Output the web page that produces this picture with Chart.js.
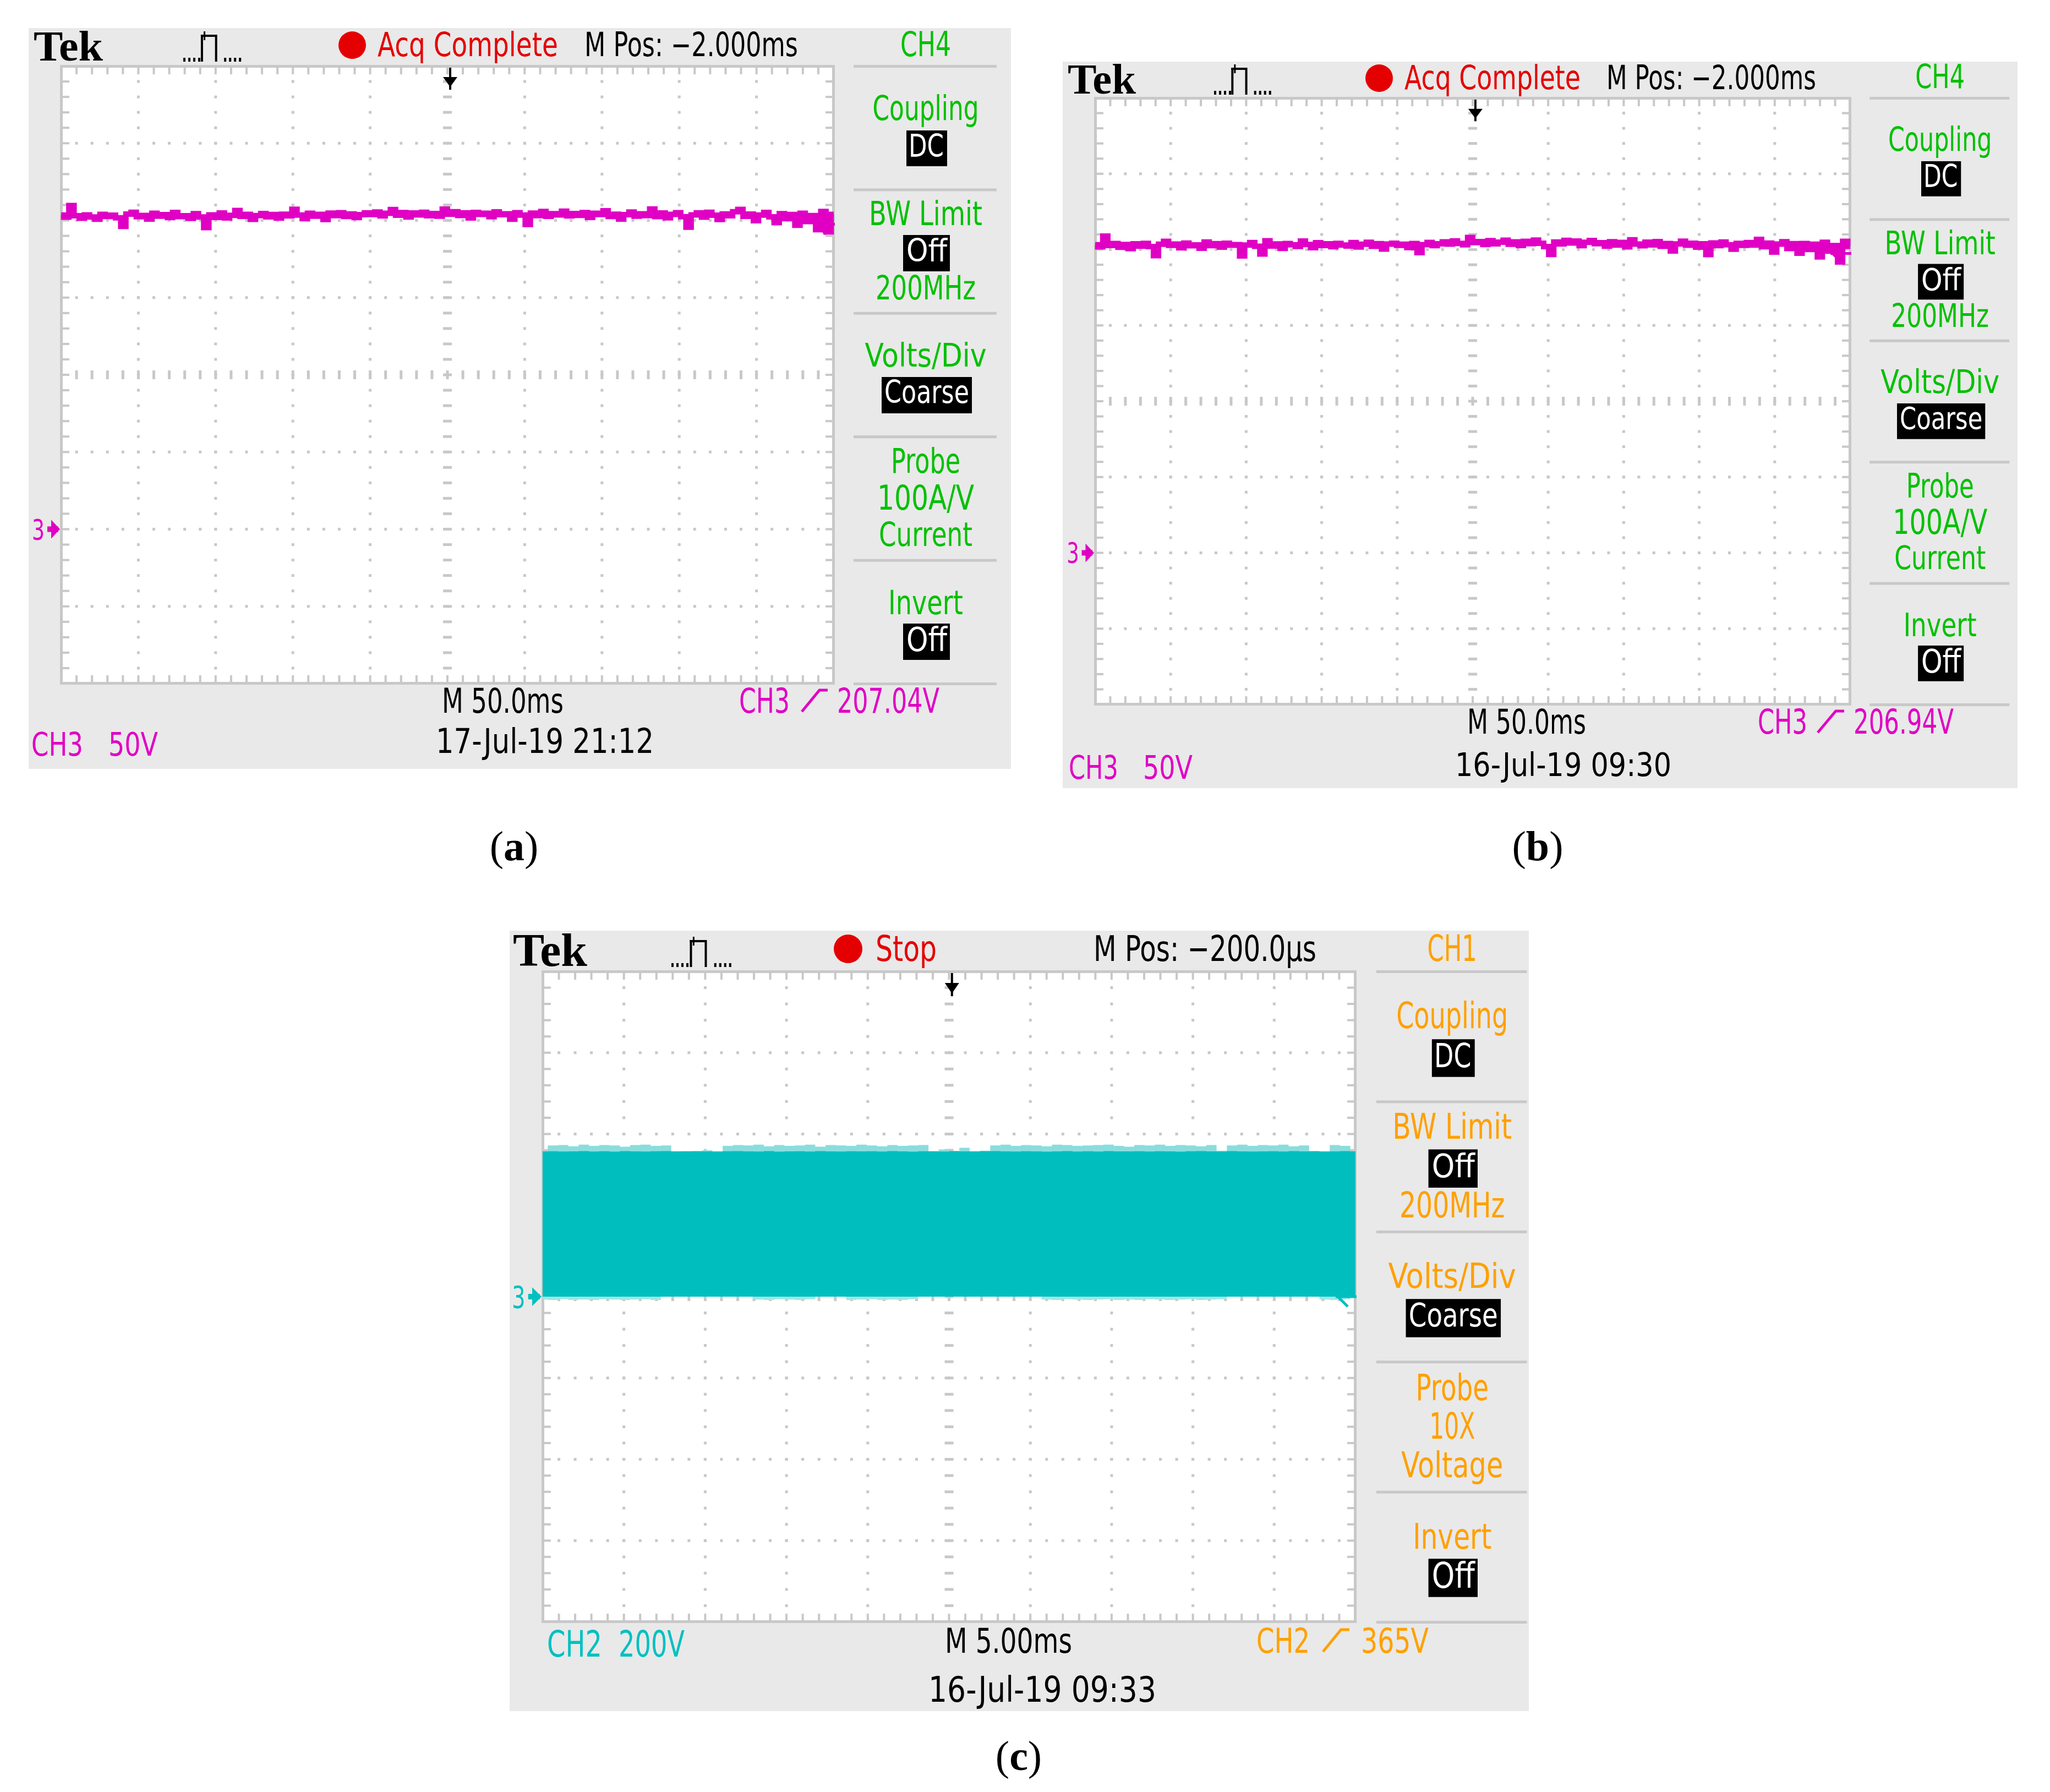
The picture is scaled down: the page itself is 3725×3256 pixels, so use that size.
<!DOCTYPE html>
<html>
<head>
<meta charset="utf-8">
<title>Oscilloscope captures (a) (b) (c)</title>
<script src="https://cdn.jsdelivr.net/npm/chart.js@4.4.1/dist/chart.umd.min.js"></script>
<style>
  html, body { margin: 0; padding: 0; background: #fff; }
  body { width: 3725px; height: 3256px; position: relative; overflow: hidden; }
  canvas.scope { position: absolute; }
  .cap { position: absolute; font-family: "Liberation Serif", serif; font-size: 76px; line-height: 1;
         transform: translate(-50%, -50%); color: #000; white-space: nowrap; }
  .cap b { font-weight: bold; }
</style>
</head>
<body>
<canvas id="scopeA" class="scope"></canvas>
<canvas id="scopeB" class="scope"></canvas>
<canvas id="scopeC" class="scope"></canvas>
<div class="cap" style="left:934px;top:1537px">(<b>a</b>)</div>
<div class="cap" style="left:2794px;top:1537px">(<b>b</b>)</div>
<div class="cap" style="left:1851px;top:3190px">(<b>c</b>)</div>

<script>

// (a) CH3, 50 V/div, volts above the CH3 ground marker
var aTrace = [
  203.5, 202.1, 209.6, 203.0, 201.4, 203.6, 202.2, 200.8, 203.9, 202.6,
  203.4, 201.7, 196.2, 204.1, 205.3, 202.4, 203.2, 200.9, 204.6, 202.8,
  203.7, 201.9, 205.2, 202.5, 203.0, 201.3, 204.4, 202.2, 195.4, 203.6,
  202.0, 204.8, 201.6, 203.3, 206.4, 202.7, 203.9, 200.7, 203.1, 204.5,
  202.3, 203.8, 201.5, 204.0, 202.9, 207.2, 203.5, 201.2, 204.6, 202.8,
  203.9, 200.6, 204.7, 203.1, 205.0, 202.6, 204.2, 201.9, 203.7, 204.9,
  203.8, 205.4, 202.9, 204.6, 207.0, 203.4, 205.1, 202.2, 204.8, 203.6,
  205.3, 203.0, 204.5, 202.8, 207.3, 204.0, 205.6, 203.2, 204.9, 201.6,
  205.2, 203.9, 204.6, 202.4, 205.5, 203.7, 204.3, 200.8, 205.0, 203.5,
  197.4, 204.7, 203.1, 205.8, 202.7, 204.4, 203.6, 206.0, 202.9, 204.5,
  203.3, 205.1, 202.0, 204.6, 203.8, 206.2, 202.6, 204.0, 200.9, 203.7,
  205.4, 202.8, 204.3, 203.1, 207.4, 202.5, 204.8, 201.7, 203.9, 205.0,
  202.4, 195.6, 203.6, 204.9, 202.1, 205.3, 203.4, 200.6, 204.2, 203.0,
  205.6, 207.1, 202.7, 204.1, 199.8, 203.5, 205.2, 202.3, 198.6, 204.4,
  201.2, 203.8, 196.9, 204.6, 199.3, 203.1, 194.0, 205.8, 192.6, 203.9
];
var aLevel = 197.5;

// (b) CH3, 50 V/div
var bTrace = [
  203.2, 201.8, 208.9, 202.7, 204.0, 201.5, 203.4, 200.6, 203.8, 202.3,
  204.1, 202.0, 196.0, 203.5, 205.4, 202.8, 203.6, 201.2, 204.3, 202.5,
  203.1, 200.9, 205.0, 202.6, 203.9, 201.6, 204.2, 202.9, 203.3, 195.8,
  203.0, 204.6, 202.2, 197.1, 205.8, 202.4, 203.7, 200.8, 204.0, 203.2,
  202.1, 205.6, 203.4, 201.3, 204.5, 202.7, 203.8, 201.9, 204.1, 203.0,
  202.4, 204.6, 201.7, 203.5, 204.8, 202.2, 203.9, 200.4, 203.6, 204.2,
  202.8, 203.5, 201.4, 204.0, 198.0, 203.3, 204.7, 202.6, 203.8, 205.1,
  203.6, 205.7, 204.1, 203.2, 208.0, 204.6, 205.3, 203.4, 205.9, 203.8,
  204.9, 206.2, 203.5, 205.1, 202.7, 205.4, 203.9, 206.3, 204.2, 202.0,
  196.8, 205.0, 203.7, 206.1, 204.4, 205.6, 202.6, 204.8, 206.0, 203.9,
  204.5, 202.3, 205.2, 203.0, 204.7, 201.8, 206.4, 203.6, 202.5, 204.9,
  203.1, 205.3, 202.2, 204.0, 199.1, 203.7, 205.5, 202.9, 204.2, 201.6,
  203.8, 196.7, 204.4, 202.6, 205.0, 203.2, 200.3, 204.1, 202.8, 204.6,
  203.0, 206.7, 201.9, 204.3, 198.4, 203.6, 205.2, 200.7, 203.9, 197.6,
  204.0, 200.1, 203.5, 195.2, 204.8, 199.0, 202.6, 191.8, 205.4, 202.2
];
var bLevel = 197.5;

// (c) CH2, 200 V/div - dense switching, so the band is drawn as its envelope
var cSpike = [
  358, 372, 373, 370, 374, 371, 373, 372, 369, 373,
  374, 371, 372, 358, 358, 358, 360, 358, 371, 373,
  372, 374, 370, 373, 371, 372, 374, 369, 373, 372,
  371, 374, 372, 370, 373, 371, 372, 373, 358, 362,
  358, 366, 358, 359, 372, 374, 371, 373, 372, 370,
  374, 373, 371, 372, 373, 374, 371, 369, 373, 372,
  374, 371, 373, 372, 370, 373, 359, 372, 374, 371,
  373, 372, 374, 370, 372, 358, 358, 373, 371, 358
];
var cBand = [
  357.2, 357.8, 356.9, 357.5, 358.0, 357.1, 357.6, 356.8, 357.9, 357.3,
  357.0, 357.7, 358.1, 356.9, 357.4, 357.8, 357.2, 356.7, 357.6, 358.0,
  357.3, 357.1, 357.9, 356.8, 357.5, 357.7, 357.0, 358.2, 357.4, 356.9,
  357.8, 357.2, 357.6, 357.0, 358.0, 357.3, 356.8, 357.7, 357.5, 357.1,
  357.9, 357.4, 356.9, 357.6, 358.1, 357.2, 357.0, 357.8, 357.3, 356.7,
  357.5, 357.9, 357.1, 357.6, 356.9, 358.0, 357.4, 357.2, 357.7, 357.0,
  357.8, 357.3, 356.8, 357.6, 358.1, 357.5, 357.1, 357.9, 357.2, 356.9,
  357.4, 357.7, 357.0, 358.0, 357.3, 357.6, 356.8, 357.5, 357.9, 357.2
];
var cDip = [
  -7, -8, -6, -8, -7, -8, -6, -7, -8, -7,
  -6, -8, 0, 0, 0, 0, 0, 0, 0, 0,
  0, -7, -8, -6, -7, -8, -6, 0, 0, 0,
  -8, -7, -6, -8, -7, -8, -6, 0, 0, 0,
  0, 0, 0, 0, 0, 0, 0, 0, 0, -7,
  -8, -6, -7, -8, -7, -6, -8, -7, -8, -6,
  -7, -8, -7, -6, -8, -7, -6, 0, 0, 0,
  0, 0, 0, 0, 0, 0, -7, -8, -6, 0
];
var cLevel = 0;

// right-hand menus
var menuAB = ['CH4', 'Coupling', 'DC', 'BW Limit', 'Off', '200MHz', 'Volts/Div', 'Coarse',
              'Probe', '100A/V', 'Current', 'Invert', 'Off'];
var menuC = ['CH1', 'Coupling', 'DC', 'BW Limit', 'Off', '200MHz', 'Volts/Div', 'Coarse',
             'Probe', '10X', 'Voltage', 'Invert', 'Off'];

// ---------------- look ----------------
var RED = '#e40000', GREEN = '#00c000', ORANGE = '#ffa000';
var MAGENTA = '#e000c4', CYAN = '#00c0c0', GRID = '#c8c8c8', PANEL = '#e9e9e9';

// menu slots, in pixels of panel (a) measured from the graticule's top-left corner
var MENU_CX = 1571;
var SLOTS = [
  { top: -63, base: -18 },
  { top: 53, base: 98 },
  { top: 123, base: 165, box: [1536, 1610, 117, 182], tx: [1540, 1604] },
  { top: 245, base: 289 },
  { top: 314, base: 355, box: [1530, 1615, 307, 373], tx: [1536, 1610] },
  { top: 380, base: 424 },
  { top: 503, base: 546 },
  { top: 571, base: 612, box: [1491, 1655, 565, 631], tx: [1496, 1650] },
  { top: 694, base: 739 },
  { top: 760, base: 806 },
  { top: 828, base: 872 },
  { top: 952, base: 996 },
  { top: 1019, base: 1063, box: [1530, 1615, 1013, 1079], tx: [1536, 1610] }
];
var MENU_W = { 'CH4': 92, 'CH1': 86, 'Coupling': 193, 'BW Limit': 206, '200MHz': 182, 'Volts/Div': 221,
               'Probe': 126, '100A/V': 176, 'Current': 170, '10X': 79, 'Voltage': 176, 'Invert': 136 };

// text squeezed into a box, like the scope's narrow bitmap font
function fit(ctx, str, x0, x1, top, base, color, serif) {
  var cap = base - top;
  var size = serif ? cap / 0.66 : cap / 0.73;
  ctx.save();
  ctx.font = serif ? 'bold ' + size + 'px "Liberation Serif"' : size + 'px "DejaVu Sans"';
  ctx.textBaseline = 'alphabetic';
  var w = ctx.measureText(str).width;
  ctx.translate(x0, base);
  ctx.scale((x1 - x0) / w, 1);
  ctx.fillStyle = color;
  ctx.fillText(str, 0, 0);
  ctx.restore();
}

function pulseIcon(ctx, x0, x1, top, bot) {
  var w = x1 - x0, x;
  ctx.save();
  ctx.fillStyle = '#000';
  for (x = x0; x < x0 + 0.28 * w; x += 9) ctx.fillRect(x, bot - 7, 4, 7);
  for (x = x0 + 0.72 * w; x < x1; x += 9) ctx.fillRect(x, bot - 7, 4, 7);
  ctx.fillRect(x0 + 0.31 * w, top + 6, 4, bot - top - 6);
  ctx.fillRect(x0 + 0.31 * w, top + 6, 0.26 * w, 4);
  ctx.fillRect(x0 + 0.36 * w, top, 3, 16);
  ctx.fillRect(x0 + 0.56 * w, top + 6, 4, bot - top - 6);
  ctx.restore();
}

function slopeIcon(ctx, x0, x1, top, base, color) {
  ctx.save();
  ctx.strokeStyle = color;
  ctx.lineWidth = 5;
  ctx.beginPath();
  ctx.moveTo(x0 + 3, base - 2);
  ctx.lineTo(x0 + 0.7 * (x1 - x0), top + 4);
  ctx.lineTo(x1, top + 4);
  ctx.stroke();
  ctx.restore();
}

function graticule(ctx, a) {
  var L = a.left, T = a.top, R = a.right, B = a.bottom, W = R - L, H = B - T, i, j, gx, gy;
  ctx.fillStyle = GRID;
  for (i = 1; i < 10; i++) {
    gx = L + W * i / 10;
    for (j = 1; j < 40; j++) {
      gy = T + H * j / 40;
      if (i === 5) ctx.fillRect(gx - 8, gy - 2.5, 16, 5);
      else ctx.fillRect(gx - 2.5, gy - 2.5, 5, 5);
    }
  }
  for (i = 1; i < 8; i++) {
    gy = T + H * i / 8;
    for (j = 1; j < 50; j++) {
      gx = L + W * j / 50;
      if (i === 4) ctx.fillRect(gx - 2.5, gy - 8, 5, 16);
      else ctx.fillRect(gx - 2.5, gy - 2.5, 5, 5);
    }
  }
  // ticks along the frame
  for (j = 1; j < 50; j++) {
    gx = L + W * j / 50;
    ctx.fillRect(gx - 2, T, 4, 15);
    ctx.fillRect(gx - 2, B - 15, 4, 15);
  }
  for (j = 1; j < 40; j++) {
    gy = T + H * j / 40;
    ctx.fillRect(L, gy - 2, 15, 4);
    ctx.fillRect(R - 15, gy - 2, 15, 4);
  }
  // frame
  ctx.fillRect(L - 2, T - 2, W + 4, 5);
  ctx.fillRect(L - 2, B - 3, W + 4, 5);
  ctx.fillRect(L - 2, T - 2, 5, H + 4);
  ctx.fillRect(R - 3, T - 2, 5, H + 4);
}

function scopePlugin(p) {
  return {
    id: 'scope' + p.name,
    beforeDraw: function (chart) {
      var ctx = chart.ctx, a = chart.chartArea;
      ctx.save();
      ctx.fillStyle = PANEL;
      ctx.fillRect(0, 0, chart.width, chart.height);
      ctx.fillStyle = '#fff';
      ctx.fillRect(a.left, a.top, a.right - a.left, a.bottom - a.top);
      graticule(ctx, a);
      ctx.restore();
    },
    afterDraw: function (chart) {
      var ctx = chart.ctx, a = chart.chartArea;
      var sx = (a.right - a.left) / 1404, sy = (a.bottom - a.top) / 1122;
      var ox = -p.box.x, oy = -p.box.y;
      var yS = chart.scales.y;
      ctx.save();

      // trigger position arrow on top
      var tx = a.left + 707 * sx;
      ctx.fillStyle = '#000';
      ctx.fillRect(tx - 2, a.top + 3, 4, 40 * sy);
      ctx.beginPath();
      ctx.moveTo(tx - 13, a.top + 20 * sy);
      ctx.lineTo(tx + 13, a.top + 20 * sy);
      ctx.lineTo(tx, a.top + 38 * sy);
      ctx.closePath();
      ctx.fill();

      // ground marker "3" with arrow
      var gy = yS.getPixelForValue(0);
      fit(ctx, '3', a.left - 53 * sx, a.left - 30 * sx, gy - 19 * sy, gy + 19 * sy, p.trace);
      ctx.fillStyle = p.trace;
      ctx.fillRect(a.left - 25 * sx, gy - 5, 20 * sx, 10);
      ctx.beginPath();
      ctx.moveTo(a.left - 18 * sx, gy - 17);
      ctx.lineTo(a.left - 2, gy);
      ctx.lineTo(a.left - 18 * sx, gy + 17);
      ctx.closePath();
      ctx.fill();

      // trigger level arrow on the right edge
      var ly = yS.getPixelForValue(p.level);
      ctx.strokeStyle = p.trace;
      ctx.lineWidth = 5;
      ctx.beginPath();
      ctx.moveTo(a.right - 14, ly - 18);
      ctx.lineTo(a.right - 32, ly);
      ctx.lineTo(a.right - 14, ly + 18);
      ctx.moveTo(a.right - 36, ly);
      ctx.lineTo(a.right + 2, ly);
      ctx.stroke();

      // header / footer
      p.texts.forEach(function (t) {
        fit(ctx, t.t, t.x0 + ox, t.x1 + ox, t.top + oy, t.base + oy, t.c, t.serif);
      });
      pulseIcon(ctx, p.pulse[0] + ox, p.pulse[1] + ox, p.pulse[2] + oy, p.pulse[3] + oy);
      ctx.fillStyle = RED;
      ctx.beginPath();
      ctx.arc(p.dot[0] + ox, p.dot[1] + oy, p.dot[2], 0, Math.PI * 2);
      ctx.fill();
      slopeIcon(ctx, p.slope[0] + ox, p.slope[1] + ox, p.slope[2] + oy, p.slope[3] + oy, p.slope[4]);

      // menu
      var H = a.bottom - a.top;
      ctx.fillStyle = GRID;
      for (var k = 0; k <= 5; k++) {
        ctx.fillRect(a.left + 1440 * sx, a.top + H * k / 5 - 2, 260 * sx, 5);
      }
      SLOTS.forEach(function (s, i) {
        var str = p.menu[i];
        if (s.box) {
          ctx.fillStyle = '#000';
          ctx.fillRect(a.left + s.box[0] * sx, a.top + s.box[2] * sy,
                       (s.box[1] - s.box[0]) * sx, (s.box[3] - s.box[2]) * sy);
          fit(ctx, str, a.left + s.tx[0] * sx, a.left + s.tx[1] * sx,
              a.top + s.top * sy, a.top + s.base * sy, '#fff');
        } else {
          var hw = MENU_W[str] / 2;
          fit(ctx, str, a.left + (MENU_CX - hw) * sx, a.left + (MENU_CX + hw) * sx,
              a.top + s.top * sy, a.top + s.base * sy, p.menuColor);
        }
      });
      ctx.restore();
    }
  };
}

function scope(id, p) {
  var cv = document.getElementById(id);
  cv.width = p.box.w;
  cv.height = p.box.h;
  cv.style.left = p.box.x + 'px';
  cv.style.top = p.box.y + 'px';
  var samples = p.datasets[0].data.map(function (v, i) { return i; });
  return new Chart(cv.getContext('2d'), {
    type: 'line',
    data: { labels: samples, datasets: p.datasets },
    options: {
      responsive: false,
      animation: false,
      devicePixelRatio: 1,
      layout: {
        padding: {
          left: p.plot.x - p.box.x,
          top: p.plot.y - p.box.y,
          right: p.box.x + p.box.w - p.plot.x - p.plot.w,
          bottom: p.box.y + p.box.h - p.plot.y - p.plot.h
        }
      },
      plugins: { legend: { display: false }, tooltip: { enabled: false } },
      elements: { point: { radius: 0 }, line: { tension: 0 } },
      scales: {
        x: { display: false, offset: false },
        y: { display: false, min: p.yMin, max: p.yMax }
      }
    },
    plugins: [scopePlugin(p)]
  });
}

// ---------------- panel (a) ----------------
scope('scopeA', {
  name: 'A',
  box: { x: 52, y: 51, w: 1785, h: 1346 },
  plot: { x: 111, y: 120, w: 1404, h: 1122 },
  yMin: -100, yMax: 300,
  trace: MAGENTA, level: aLevel, menu: menuAB, menuColor: GREEN,
  datasets: [{ data: aTrace, borderColor: MAGENTA, borderWidth: 10, stepped: 'middle', fill: false }],
  pulse: [333, 436, 57, 112],
  dot: [640, 82, 25],
  slope: [1454, 1504, 1250, 1295, MAGENTA],
  texts: [
    { t: 'Tek', x0: 61, x1: 187, top: 58, base: 110, c: '#000', serif: true },
    { t: 'Acq Complete', x0: 686, x1: 1014, top: 58, base: 102, c: RED },
    { t: 'M Pos: \u22122.000ms', x0: 1062, x1: 1450, top: 58, base: 102, c: '#000' },
    { t: 'M 50.0ms', x0: 803, x1: 1024, top: 1250, base: 1295, c: '#000' },
    { t: 'CH3', x0: 1343, x1: 1435, top: 1250, base: 1295, c: MAGENTA },
    { t: '207.04V', x0: 1521, x1: 1707, top: 1250, base: 1295, c: MAGENTA },
    { t: 'CH3', x0: 57, x1: 151, top: 1330, base: 1373, c: MAGENTA },
    { t: '50V', x0: 197, x1: 287, top: 1330, base: 1373, c: MAGENTA },
    { t: '17-Jul-19 21:12', x0: 792, x1: 1188, top: 1323, base: 1368, c: '#000' }
  ]
});

// ---------------- panel (b) ----------------
scope('scopeB', {
  name: 'B',
  box: { x: 1931, y: 112, w: 1735, h: 1320 },
  plot: { x: 1990, y: 178, w: 1372, h: 1102 },
  yMin: -100, yMax: 300,
  trace: MAGENTA, level: bLevel, menu: menuAB, menuColor: GREEN,
  datasets: [{ data: bTrace, borderColor: MAGENTA, borderWidth: 10, stepped: 'middle', fill: false }],
  pulse: [2206, 2307, 117, 172],
  dot: [2506, 142, 25],
  slope: [3300, 3351, 1288, 1333, MAGENTA],
  texts: [
    { t: 'Tek', x0: 1940, x1: 2064, top: 118, base: 170, c: '#000', serif: true },
    { t: 'Acq Complete', x0: 2552, x1: 2872, top: 118, base: 162, c: RED },
    { t: 'M Pos: \u22122.000ms', x0: 2919, x1: 3300, top: 118, base: 162, c: '#000' },
    { t: 'M 50.0ms', x0: 2666, x1: 2882, top: 1288, base: 1333, c: '#000' },
    { t: 'CH3', x0: 3194, x1: 3284, top: 1288, base: 1333, c: MAGENTA },
    { t: '206.94V', x0: 3368, x1: 3550, top: 1288, base: 1333, c: MAGENTA },
    { t: 'CH3', x0: 1942, x1: 2032, top: 1372, base: 1415, c: MAGENTA },
    { t: '50V', x0: 2077, x1: 2167, top: 1372, base: 1415, c: MAGENTA },
    { t: '16-Jul-19 09:30', x0: 2644, x1: 3037, top: 1367, base: 1410, c: '#000' }
  ]
});

// ---------------- panel (c) ----------------
scope('scopeC', {
  name: 'C',
  box: { x: 926, y: 1691, w: 1852, h: 1418 },
  plot: { x: 986, y: 1765, w: 1477, h: 1182 },
  yMin: -800, yMax: 800,
  trace: CYAN, level: cLevel, menu: menuC, menuColor: ORANGE,
  datasets: [
    { data: cBand, borderWidth: 0, backgroundColor: '#00bebe', stepped: 'middle', fill: 'origin', order: 1 },
    { data: cDip, borderWidth: 0, backgroundColor: '#9fe6e6', stepped: 'middle', fill: 'origin', order: 2 },
    { data: cSpike, borderWidth: 0, backgroundColor: '#8adddd', stepped: 'middle', fill: 'origin', order: 3 }
  ],
  pulse: [1220, 1328, 1702, 1757],
  dot: [1541, 1724, 26],
  slope: [2401, 2452, 2957, 3003, ORANGE],
  texts: [
    { t: 'Tek', x0: 932, x1: 1067, top: 1699, base: 1755, c: '#000', serif: true },
    { t: 'Stop', x0: 1591, x1: 1702, top: 1699, base: 1746, c: RED },
    { t: 'M Pos: \u2212200.0\u00b5s', x0: 1987, x1: 2392, top: 1699, base: 1746, c: '#000' },
    { t: 'CH2', x0: 994, x1: 1094, top: 2962, base: 3010, c: CYAN },
    { t: '200V', x0: 1124, x1: 1244, top: 2962, base: 3010, c: CYAN },
    { t: 'M 5.00ms', x0: 1717, x1: 1948, top: 2957, base: 3003, c: '#000' },
    { t: 'CH2', x0: 2283, x1: 2380, top: 2957, base: 3003, c: ORANGE },
    { t: '365V', x0: 2473, x1: 2596, top: 2957, base: 3003, c: ORANGE },
    { t: '16-Jul-19 09:33', x0: 1687, x1: 2101, top: 3045, base: 3092, c: '#000' }
  ]
});
</script>
</body>
</html>
